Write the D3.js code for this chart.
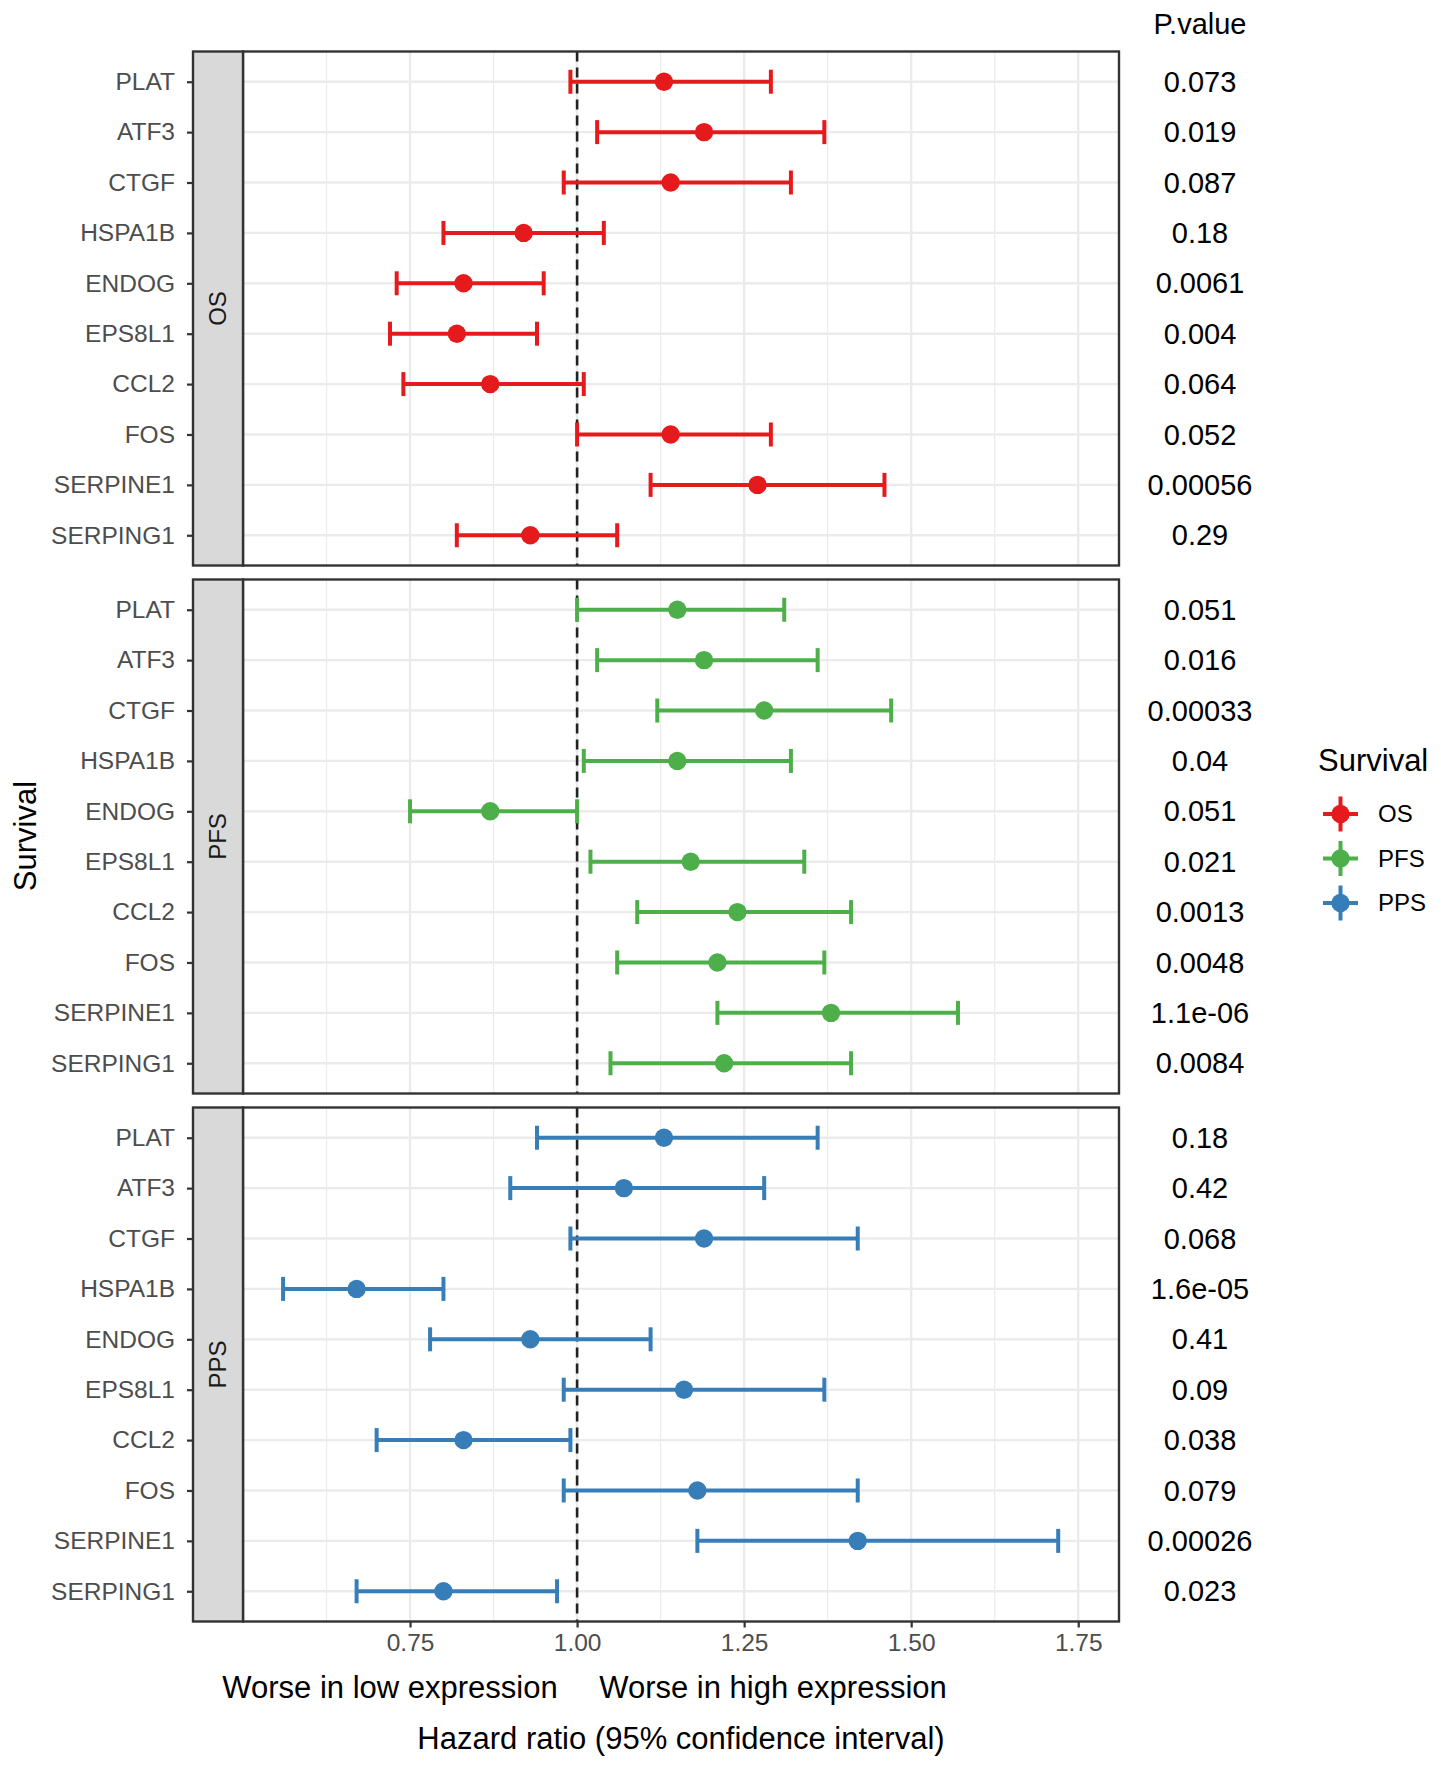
<!DOCTYPE html>
<html>
<head>
<meta charset="utf-8">
<script src="https://cdn.jsdelivr.net/npm/d3@7"></script>
<style>
  html, body { margin: 0; padding: 0; background: #fff; }
  svg { display: block; font-family: "Liberation Sans", Arial, Helvetica, sans-serif; }
</style>
</head>
<body>
<svg id="chart" width="1441" height="1767"></svg>
<script>
// ---------- data ----------
const genes = ["PLAT","ATF3","CTGF","HSPA1B","ENDOG","EPS8L1","CCL2","FOS","SERPINE1","SERPING1"];
const survivalGroups = ["OS","PFS","PPS"];
const groupColors = ["#E41A1C","#4DAF4A","#377EB8"];

const hrOS    = [1.13, 1.19, 1.14, 0.92, 0.83, 0.82, 0.87, 1.14, 1.27, 0.93];
const lowerOS = [0.99, 1.03, 0.98, 0.80, 0.73, 0.72, 0.74, 1.00, 1.11, 0.82];
const upperOS = [1.29, 1.37, 1.32, 1.04, 0.95, 0.94, 1.01, 1.29, 1.46, 1.06];
const pOS     = ["0.073","0.019","0.087","0.18","0.0061","0.004","0.064","0.052","0.00056","0.29"];

const hrPFS    = [1.15, 1.19, 1.28, 1.15, 0.87, 1.17, 1.24, 1.21, 1.38, 1.22];
const lowerPFS = [1.00, 1.03, 1.12, 1.01, 0.75, 1.02, 1.09, 1.06, 1.21, 1.05];
const upperPFS = [1.31, 1.36, 1.47, 1.32, 1.00, 1.34, 1.41, 1.37, 1.57, 1.41];
const pPFS     = ["0.051","0.016","0.00033","0.04","0.051","0.021","0.0013","0.0048","1.1e-06","0.0084"];

const hrPPS    = [1.13, 1.07, 1.19, 0.67, 0.93, 1.16, 0.83, 1.18, 1.42, 0.80];
const lowerPPS = [0.94, 0.90, 0.99, 0.56, 0.78, 0.98, 0.70, 0.98, 1.18, 0.67];
const upperPPS = [1.36, 1.28, 1.42, 0.80, 1.11, 1.37, 0.99, 1.42, 1.72, 0.97];
const pPPS     = ["0.18","0.42","0.068","1.6e-05","0.41","0.09","0.038","0.079","0.00026","0.023"];

const xTicks = [0.75, 1.00, 1.25, 1.50, 1.75];
const xMinorTicks = [0.625, 0.875, 1.125, 1.375, 1.625];
const refLine = 1.0;

const hrTable = [hrOS, hrPFS, hrPPS];
const lowerTable = [lowerOS, lowerPFS, lowerPPS];
const upperTable = [upperOS, upperPFS, upperPPS];
const pTable = [pOS, pPFS, pPPS];

// ---------- layout ----------
const svg = d3.select("#chart");
const stripLeft = 193, plotLeft = 243, plotRight = 1119;
const x = d3.scaleLinear().domain([0.5, 1.811]).range([plotLeft, plotRight]);
const panelY = d3.scaleBand().domain(survivalGroups).range([51.5, 1621.5]).paddingInner(0.0265);
const pvalX = 1200;

const gridCol = "#EBEBEB", borderCol = "#333333", labelCol = "#4D4D4D";
const lw = 4;

// header
svg.append("text").attr("x", pvalX).attr("y", 24).attr("dy", "0.35em")
  .attr("text-anchor", "middle").attr("font-size", 29).attr("fill", "#000").text("P.value");

survivalGroups.forEach((grp, gi) => {
  const top = panelY(grp), h = panelY.bandwidth();
  const y = d3.scalePoint().domain(genes).range([top, top + h]).padding(0.6);
  const g = svg.append("g");

  g.append("rect").attr("x", plotLeft).attr("y", top).attr("width", plotRight - plotLeft).attr("height", h)
    .attr("fill", "#fff");

  g.selectAll(".minor").data(xMinorTicks).join("line")
    .attr("x1", d => x(d)).attr("x2", d => x(d)).attr("y1", top).attr("y2", top + h)
    .attr("stroke", gridCol).attr("stroke-width", 1.2);
  g.selectAll(".major").data(xTicks).join("line")
    .attr("x1", d => x(d)).attr("x2", d => x(d)).attr("y1", top).attr("y2", top + h)
    .attr("stroke", gridCol).attr("stroke-width", 2.4);
  g.selectAll(".hgrid").data(genes).join("line")
    .attr("x1", plotLeft).attr("x2", plotRight).attr("y1", d => y(d)).attr("y2", d => y(d))
    .attr("stroke", gridCol).attr("stroke-width", 2.4);

  g.append("line").attr("x1", x(refLine)).attr("x2", x(refLine)).attr("y1", top).attr("y2", top + h)
    .attr("stroke", "#222").attr("stroke-width", 2.6).attr("stroke-dasharray", "10,6");

  const color = groupColors[gi];
  const rows = genes.map((gn, i) => ({gene: gn, hr: hrTable[gi][i], lo: lowerTable[gi][i], hi: upperTable[gi][i], p: pTable[gi][i]}));

  const eb = g.selectAll(".eb").data(rows).join("g");
  eb.append("line").attr("x1", d => x(d.lo)).attr("x2", d => x(d.hi))
    .attr("y1", d => y(d.gene)).attr("y2", d => y(d.gene))
    .attr("stroke", color).attr("stroke-width", lw);
  eb.append("line").attr("x1", d => x(d.lo)).attr("x2", d => x(d.lo))
    .attr("y1", d => y(d.gene) - 12).attr("y2", d => y(d.gene) + 12)
    .attr("stroke", color).attr("stroke-width", lw);
  eb.append("line").attr("x1", d => x(d.hi)).attr("x2", d => x(d.hi))
    .attr("y1", d => y(d.gene) - 12).attr("y2", d => y(d.gene) + 12)
    .attr("stroke", color).attr("stroke-width", lw);
  eb.append("circle").attr("cx", d => x(d.hr)).attr("cy", d => y(d.gene)).attr("r", 9.2).attr("fill", color);

  g.append("rect").attr("x", plotLeft).attr("y", top).attr("width", plotRight - plotLeft).attr("height", h)
    .attr("fill", "none").attr("stroke", borderCol).attr("stroke-width", 2.4);

  g.append("rect").attr("x", stripLeft).attr("y", top).attr("width", plotLeft - stripLeft).attr("height", h)
    .attr("fill", "#D9D9D9").attr("stroke", borderCol).attr("stroke-width", 2.4);
  g.append("text").attr("transform", `translate(${(stripLeft + plotLeft) / 2},${top + h / 2}) rotate(-90)`)
    .attr("text-anchor", "middle").attr("dy", "0.35em").attr("font-size", 24).attr("fill", "#1A1A1A").text(grp);

  const yAxis = g.append("g").attr("transform", `translate(${stripLeft},0)`)
    .call(d3.axisLeft(y).tickSize(6).tickPadding(12));
  yAxis.select(".domain").remove();
  yAxis.selectAll(".tick line").attr("stroke", borderCol).attr("stroke-width", 2.2);
  yAxis.selectAll(".tick text").attr("font-size", 24.5).attr("fill", labelCol)
    .attr("font-family", "'Liberation Sans', Arial, Helvetica, sans-serif");

  g.selectAll(".pv").data(rows).join("text")
    .attr("x", pvalX).attr("y", d => y(d.gene)).attr("dy", "0.35em")
    .attr("text-anchor", "middle").attr("font-size", 29).attr("fill", "#000").text(d => d.p);

  if (gi === survivalGroups.length - 1) {
    const xAxis = g.append("g").attr("transform", `translate(0,${top + h})`)
      .call(d3.axisBottom(x).tickValues(xTicks).tickFormat(d3.format(".2f")).tickSize(6).tickPadding(6));
    xAxis.select(".domain").remove();
    xAxis.selectAll(".tick line").attr("stroke", borderCol).attr("stroke-width", 2.2);
    xAxis.selectAll(".tick text").attr("font-size", 24.5).attr("fill", labelCol)
      .attr("font-family", "'Liberation Sans', Arial, Helvetica, sans-serif");
  }
});

svg.append("text").attr("x", 390).attr("y", 1687).attr("dy", "0.35em").attr("text-anchor", "middle")
  .attr("font-size", 31).attr("fill", "#000").text("Worse in low expression");
svg.append("text").attr("x", 773).attr("y", 1687).attr("dy", "0.35em").attr("text-anchor", "middle")
  .attr("font-size", 31).attr("fill", "#000").text("Worse in high expression");
svg.append("text").attr("x", (plotLeft + plotRight) / 2).attr("y", 1738).attr("dy", "0.35em").attr("text-anchor", "middle")
  .attr("font-size", 31).attr("fill", "#000").text("Hazard ratio (95% confidence interval)");
svg.append("text").attr("transform", `translate(25,836) rotate(-90)`).attr("dy", "0.35em").attr("text-anchor", "middle")
  .attr("font-size", 31).attr("fill", "#000").text("Survival");

const legend = svg.append("g");
legend.append("text").attr("x", 1318).attr("y", 760).attr("dy", "0.35em")
  .attr("font-size", 31).attr("fill", "#000").text("Survival");
const ly = d3.scalePoint().domain(survivalGroups).range([814, 903]);
const items = legend.selectAll(".li").data(survivalGroups).join("g")
  .attr("transform", d => `translate(1340.5,${ly(d)})`);
items.append("line").attr("x1", -17.5).attr("x2", 17.5).attr("y1", 0).attr("y2", 0)
  .attr("stroke", (d, i) => groupColors[i]).attr("stroke-width", lw);
items.append("line").attr("x1", 0).attr("x2", 0).attr("y1", -17.5).attr("y2", 17.5)
  .attr("stroke", (d, i) => groupColors[i]).attr("stroke-width", lw);
items.append("circle").attr("r", 9.2).attr("fill", (d, i) => groupColors[i]);
items.append("text").attr("x", 37.5).attr("dy", "0.35em").attr("font-size", 24).attr("fill", "#000").text(d => d);
</script>
</body>
</html>
